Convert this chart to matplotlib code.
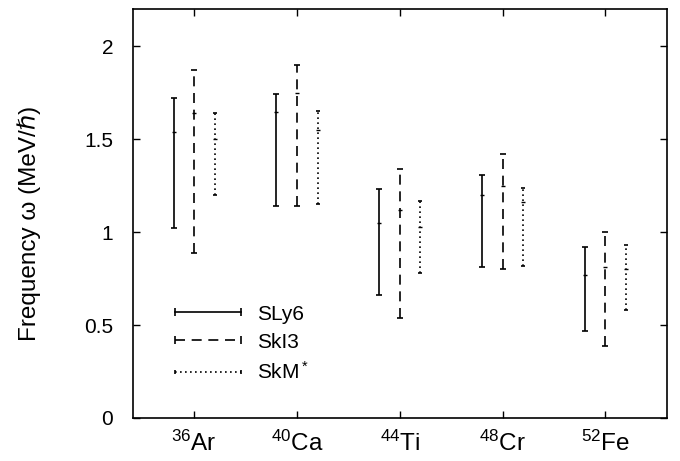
import matplotlib
matplotlib.use("Agg")
import matplotlib.pyplot as plt
import numpy as np
from matplotlib.lines import Line2D

plt.rcParams['font.family'] = ['Liberation Sans', 'DejaVu Sans']
plt.rcParams['mathtext.fontset'] = 'custom'
plt.rcParams['mathtext.rm'] = 'Liberation Sans'
plt.rcParams['mathtext.it'] = 'Liberation Sans:italic'

nuclei = [r'$^{36}$Ar', r'$^{40}$Ca', r'$^{44}$Ti', r'$^{48}$Cr', r'$^{52}$Fe']
forces = ['SLy6', 'SkI3', 'SkM$^*$']

sly6_lo = [1.02, 1.14, 0.66, 0.81, 0.47]
sly6_mid = [1.54, 1.645, 1.05, 1.20, 0.77]
sly6_hi = [1.72, 1.745, 1.23, 1.31, 0.92]

ski3_lo = [0.89, 1.14, 0.54, 0.80, 0.39]
ski3_mid = [1.64, 1.75, 1.12, 1.25, 0.81]
ski3_hi = [1.87, 1.90, 1.34, 1.42, 1.00]

skm_lo = [1.20, 1.15, 0.78, 0.82, 0.58]
skm_mid = [1.50, 1.55, 1.03, 1.16, 0.80]
skm_hi = [1.64, 1.65, 1.17, 1.24, 0.93]

series = [
    (sly6_lo, sly6_mid, sly6_hi, '-', -0.2, 2.5),
    (ski3_lo, ski3_mid, ski3_hi, (0, (6, 4)), 0.0, 2.5),
    (skm_lo, skm_mid, skm_hi, (0, (1, 2)), 0.2, 1.2),
]

fig = plt.figure(figsize=(6.8, 4.61), dpi=100)
ax = fig.add_axes([0.195, 0.0933, 0.786, 0.887])

x = np.arange(len(nuclei))
handles = []
for (lo, mid, hi, ls, off, cs), name in zip(series, forces):
    lo = np.array(lo); mid = np.array(mid); hi = np.array(hi)
    eb = ax.errorbar(x + off, mid, yerr=[mid - lo, hi - mid], fmt='none',
                     ecolor='black', elinewidth=1.2, capsize=cs, capthick=1.2)
    eb[2][0].set_linestyle(ls)
    ax.plot(x + off, mid, ls='none', marker='_', ms=3, mew=1, color='black')
    handles.append(Line2D([0], [0], color='black', lw=1.2, ls=ls,
                          marker='|', ms=6 if cs > 2 else 3, mew=1.2))

ax.set_xlim(-0.6, 4.6)
ax.set_ylim(0, 2.2)
ax.set_xticks(x)
ax.set_xticklabels(nuclei, fontsize=17.5)
ax.set_yticks([0, 0.5, 1, 1.5, 2])
ax.set_yticklabels(['0', '0.5', '1', '1.5', '2'], fontsize=15)
ax.tick_params(direction='in', top=True, right=True, length=5, width=1)
ax.tick_params(axis='x', pad=9)
ax.tick_params(axis='y', pad=14)
for s in ax.spines.values():
    s.set_linewidth(1.2)
ax.set_ylabel('Frequency ω (MeV/ℏ)', fontsize=17.5)
ax.yaxis.set_label_coords(-0.172, 0.475)

leg = ax.legend(handles, forces, loc='upper left', bbox_to_anchor=(0.036, 0.318),
                frameon=False, fontsize=15, numpoints=2, handlelength=3.8,
                handletextpad=0.43, labelspacing=0.44, borderaxespad=0.4)

fig.savefig('out.png', dpi=100)
